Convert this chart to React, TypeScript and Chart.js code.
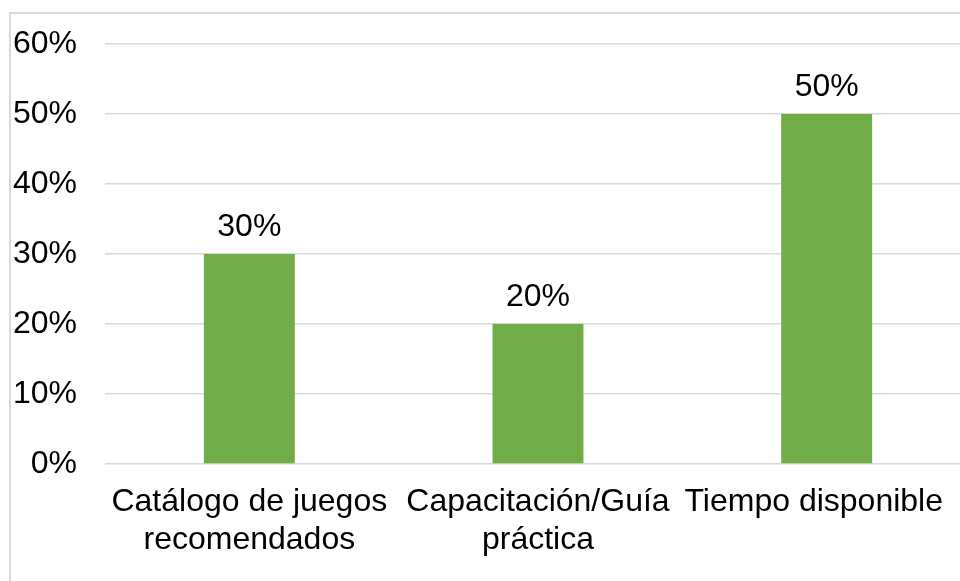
import React, { useEffect, useRef } from "react";
import { Chart, registerables } from "chart.js";

Chart.register(...registerables);

const categories: string[][] = [
  ["Catálogo de juegos", "recomendados"],
  ["Capacitación/Guía", "práctica"],
  ["Tiempo disponible"],
];
const values: number[] = [0.3, 0.2, 0.5];
const yTicks: number[] = [0, 0.1, 0.2, 0.3, 0.4, 0.5, 0.6];

const FONT = "'Liberation Sans', Arial, sans-serif";
const pct = (v: number) => `${Math.round(v * 100)}%`;

const dataLabels = {
  id: "dataLabels",
  afterDatasetsDraw(chart: any) {
    const ctx = chart.ctx;
    const meta = chart.getDatasetMeta(0);
    ctx.save();
    ctx.font = `32px ${FONT}`;
    ctx.fillStyle = "#000000";
    ctx.textAlign = "center";
    ctx.textBaseline = "alphabetic";
    meta.data.forEach((bar: any, i: number) => {
      ctx.fillText(pct(values[i]), bar.x, bar.y - 18);
    });
    ctx.restore();
  },
};

// Category labels, centred on their ticks but kept inside the chart's right edge
const categoryLabels = {
  id: "categoryLabels",
  afterDraw(chart: any) {
    const ctx = chart.ctx;
    const xs = chart.scales.x;
    const bottom = chart.chartArea.bottom;
    const maxRight = chart.width - 28;
    ctx.save();
    ctx.font = `32px ${FONT}`;
    ctx.fillStyle = "#000000";
    ctx.textBaseline = "alphabetic";
    ctx.textAlign = "left";
    categories.forEach((lines, i) => {
      const cx = xs.getPixelForTick(i);
      const widest = Math.max(...lines.map((l) => ctx.measureText(l).width));
      const shift = Math.min(0, maxRight - (cx + widest / 2));
      lines.forEach((line, j) => {
        const w = ctx.measureText(line).width;
        ctx.fillText(line, cx + shift - w / 2, bottom + 47 + j * 38);
      });
    });
    ctx.restore();
  },
};

export default function App() {
  const ref = useRef<HTMLCanvasElement>(null);
  useEffect(() => {
    if (!ref.current) return;
    const chart = new Chart(ref.current, {
      type: "bar",
      data: {
        labels: categories.map((l) => l.join(" ")),
        datasets: [
          {
            data: values,
            backgroundColor: "#70AD47",
            borderWidth: 0,
            barPercentage: 0.315,
            categoryPercentage: 1,
          },
        ],
      },
      options: {
        responsive: false,
        animation: false,
        layout: { padding: { top: 30, left: 0, right: 0, bottom: 0 } },
        plugins: { legend: { display: false }, tooltip: { enabled: false } },
        scales: {
          x: {
            grid: { display: false, drawTicks: false },
            border: { display: false },
            ticks: { display: false },
            afterFit: (s: any) => {
              s.height = 117;
              s.paddingLeft = 0;
              s.paddingRight = 0;
            },
          },
          y: {
            min: 0,
            max: 0.6,
            afterBuildTicks: (s: any) => {
              s.ticks = yTicks.map((v) => ({ value: v }));
            },
            grid: { color: "#d9d9d9", lineWidth: 1.5, drawTicks: false },
            border: { display: false },
            ticks: {
              color: "#000000",
              font: { family: FONT, size: 32 },
              padding: 28,
              callback: (v: any) => pct(Number(v)),
            },
            afterFit: (s: any) => {
              s.width = 94;
              s.paddingTop = 0;
              s.paddingBottom = 0;
            },
          },
        },
      },
      plugins: [dataLabels, categoryLabels],
    });
    return () => chart.destroy();
  }, []);

  return (
    <div
      style={{
        position: "fixed",
        left: 0,
        top: 0,
        width: 960,
        height: 581,
        overflow: "hidden",
        background: "#ffffff",
      }}
    >
      <div
        style={{
          position: "absolute",
          left: 9,
          top: 12,
          width: 1000,
          height: 620,
          borderLeft: "2px solid #d9d9d9",
          borderTop: "2px solid #d9d9d9",
        }}
      >
        <canvas ref={ref} width={960} height={567} style={{ display: "block" }} />
      </div>
    </div>
  );
}
